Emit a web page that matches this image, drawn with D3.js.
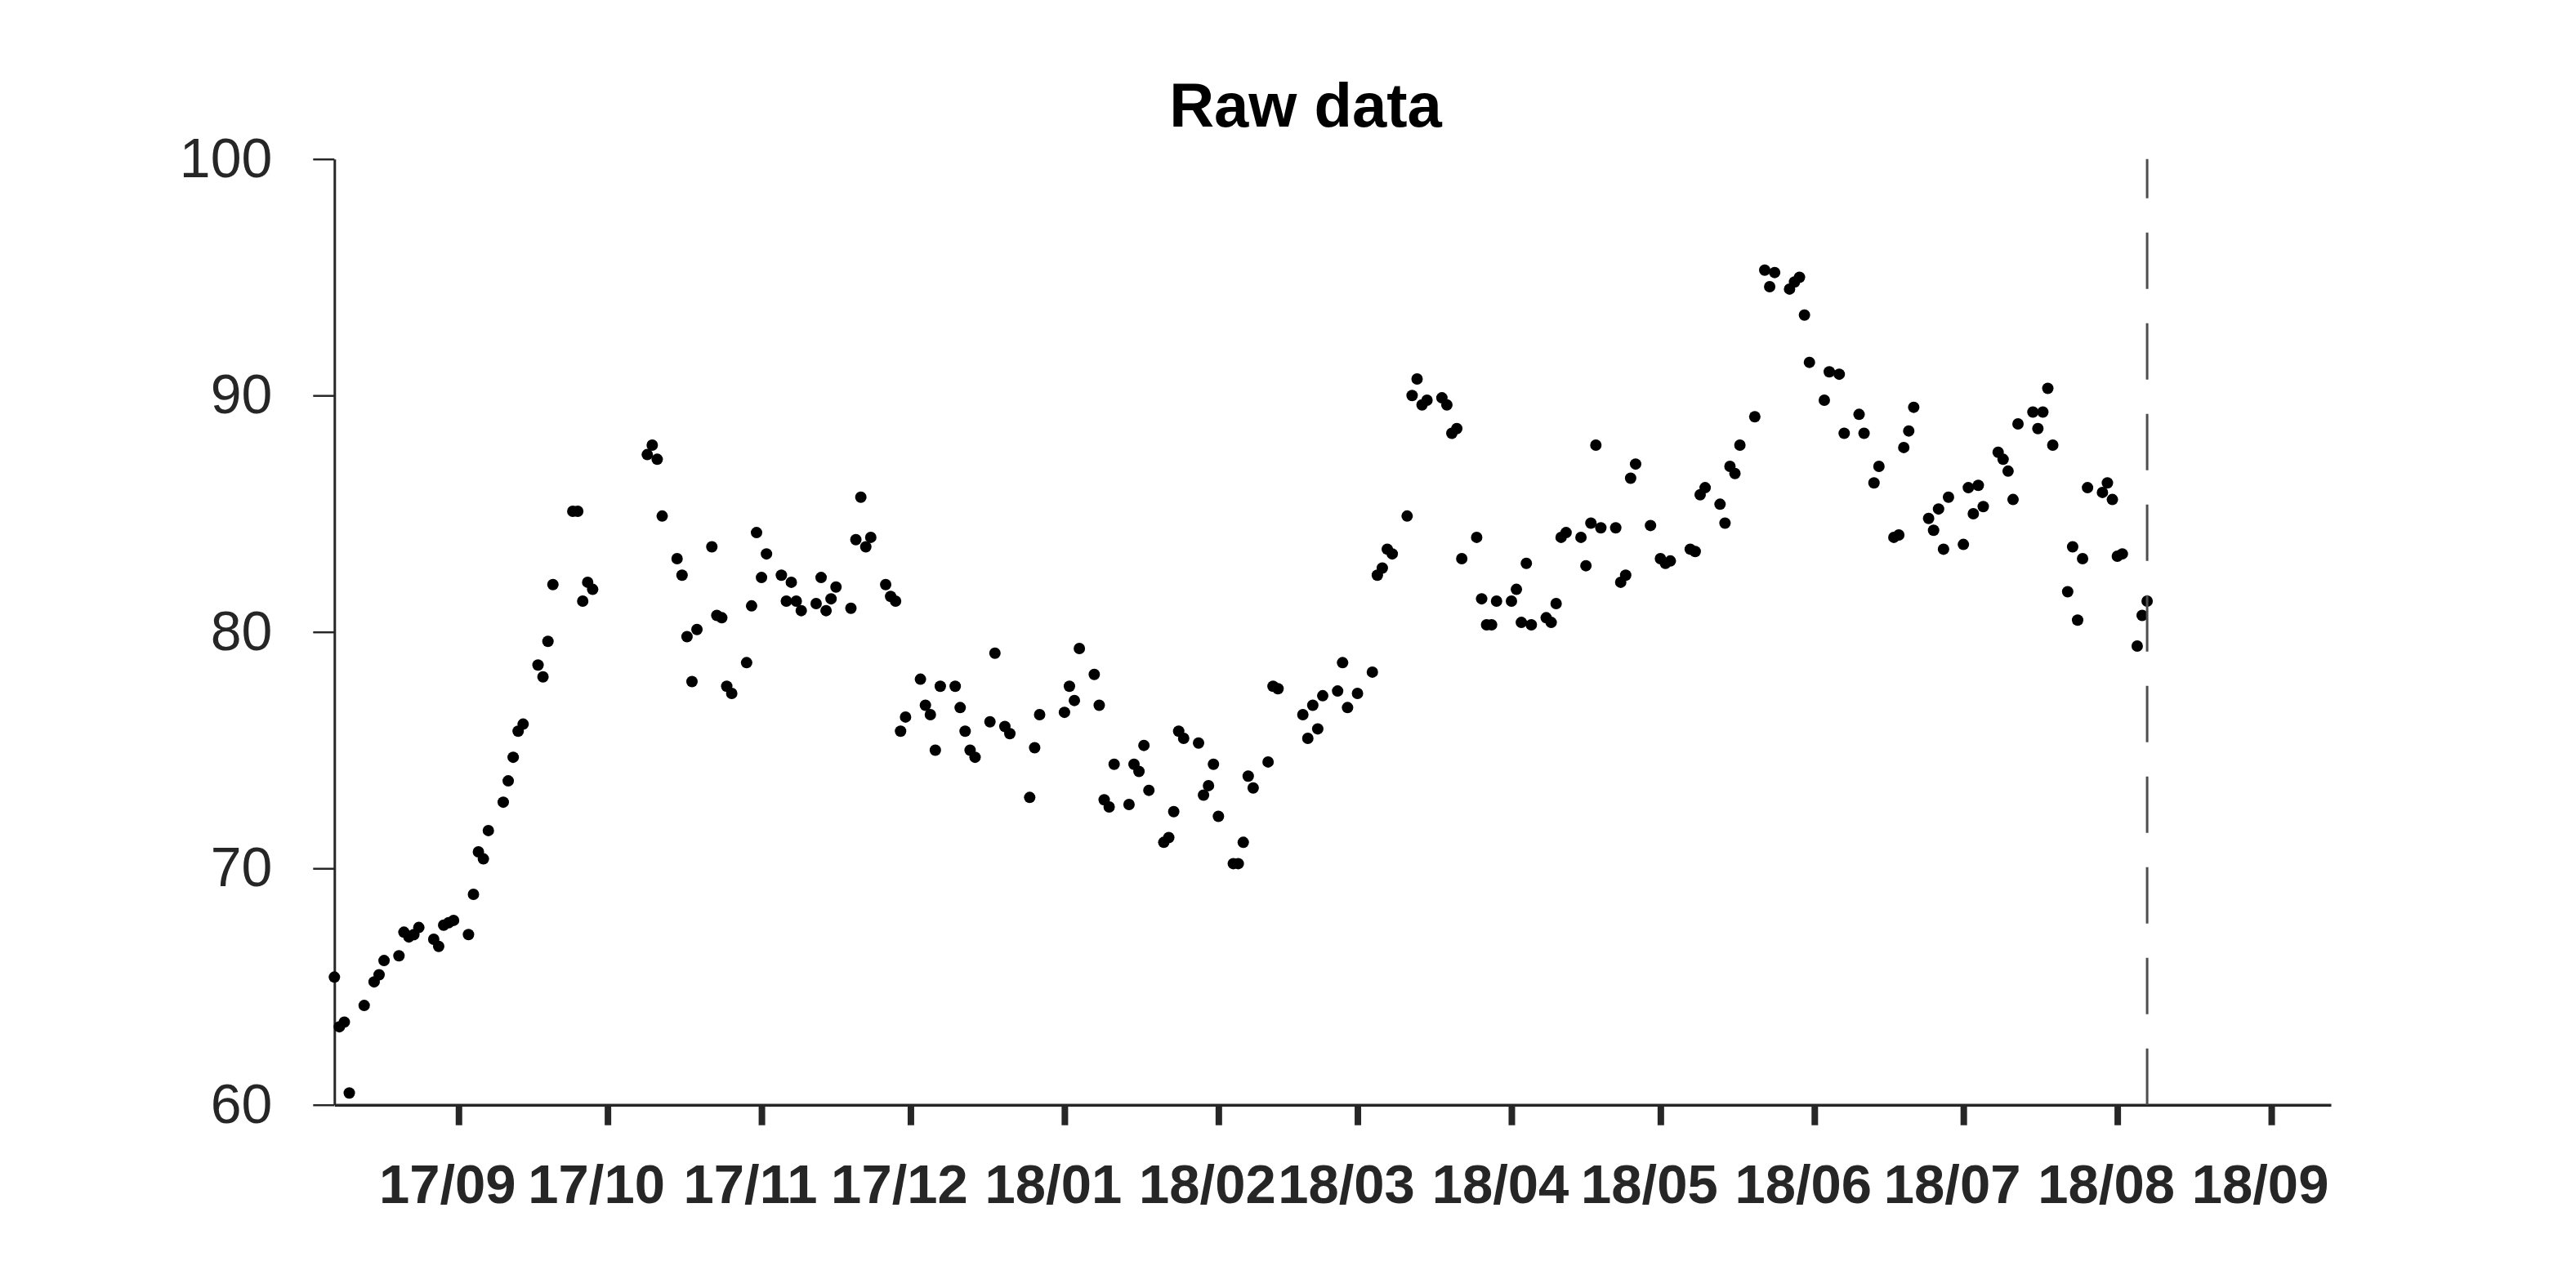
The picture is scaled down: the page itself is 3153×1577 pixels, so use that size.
<!DOCTYPE html>
<html>
<head>
<meta charset="utf-8">
<script src="https://cdn.jsdelivr.net/npm/d3@7"></script>
<style>
  html, body { margin: 0; padding: 0; background: #ffffff; }
  svg { display: block; }
</style>
</head>
<body>
<svg id="chart" width="3153" height="1577"></svg>
<script>
// ---------- data ----------
const titleText = "Raw data";

const dates = [
"2017-08-07","2017-08-08","2017-08-09","2017-08-10","2017-08-13","2017-08-15","2017-08-16","2017-08-17",
"2017-08-20","2017-08-21","2017-08-22","2017-08-23","2017-08-24","2017-08-27","2017-08-28","2017-08-29",
"2017-08-30","2017-08-31","2017-09-03","2017-09-04","2017-09-05","2017-09-06","2017-09-07","2017-09-10",
"2017-09-11","2017-09-12","2017-09-13","2017-09-14","2017-09-17","2017-09-18","2017-09-19","2017-09-20",
"2017-09-24","2017-09-25","2017-09-26","2017-09-27","2017-09-28","2017-10-09","2017-10-10","2017-10-11",
"2017-10-12","2017-10-15","2017-10-16","2017-10-17","2017-10-18","2017-10-19","2017-10-22","2017-10-23",
"2017-10-24","2017-10-25","2017-10-26","2017-10-29","2017-10-30","2017-10-31","2017-11-01","2017-11-02",
"2017-11-05","2017-11-06","2017-11-07","2017-11-08","2017-11-09","2017-11-12","2017-11-13","2017-11-14",
"2017-11-15","2017-11-16","2017-11-19","2017-11-20","2017-11-21","2017-11-22","2017-11-23","2017-11-26",
"2017-11-27","2017-11-28","2017-11-29","2017-11-30","2017-12-03","2017-12-04","2017-12-05","2017-12-06",
"2017-12-07","2017-12-10","2017-12-11","2017-12-12","2017-12-13","2017-12-14","2017-12-17","2017-12-18",
"2017-12-20","2017-12-21","2017-12-25","2017-12-26","2017-12-27","2018-01-01","2018-01-02","2018-01-03",
"2018-01-04","2018-01-07","2018-01-08","2018-01-09","2018-01-10","2018-01-11","2018-01-14","2018-01-15",
"2018-01-16","2018-01-17","2018-01-18","2018-01-21","2018-01-22","2018-01-23","2018-01-24","2018-01-25",
"2018-01-28","2018-01-29","2018-01-30","2018-01-31","2018-02-01","2018-02-04","2018-02-05","2018-02-06",
"2018-02-07","2018-02-08","2018-02-11","2018-02-12","2018-02-13","2018-02-18","2018-02-19","2018-02-20",
"2018-02-21","2018-02-22","2018-02-25","2018-02-26","2018-02-27","2018-03-01","2018-03-04","2018-03-05",
"2018-03-06","2018-03-07","2018-03-08","2018-03-11","2018-03-12","2018-03-13","2018-03-14","2018-03-15",
"2018-03-18","2018-03-19","2018-03-20","2018-03-21","2018-03-22","2018-03-25","2018-03-26","2018-03-27",
"2018-03-28","2018-03-29","2018-04-01","2018-04-02","2018-04-03","2018-04-04","2018-04-05","2018-04-08",
"2018-04-09","2018-04-10","2018-04-11","2018-04-12","2018-04-15","2018-04-16","2018-04-17","2018-04-18",
"2018-04-19","2018-04-22","2018-04-23","2018-04-24","2018-04-25","2018-04-26","2018-04-29","2018-05-01",
"2018-05-02","2018-05-03","2018-05-07","2018-05-08","2018-05-09","2018-05-10","2018-05-13","2018-05-14",
"2018-05-15","2018-05-16","2018-05-17","2018-05-20","2018-05-22","2018-05-23","2018-05-24","2018-05-27",
"2018-05-28","2018-05-29","2018-05-30","2018-05-31","2018-06-03","2018-06-04","2018-06-06","2018-06-07",
"2018-06-10","2018-06-11","2018-06-13","2018-06-14","2018-06-17","2018-06-18","2018-06-19","2018-06-20",
"2018-06-21","2018-06-24","2018-06-25","2018-06-26","2018-06-27","2018-06-28","2018-07-01","2018-07-02",
"2018-07-03","2018-07-04","2018-07-05","2018-07-08","2018-07-09","2018-07-10","2018-07-11","2018-07-12",
"2018-07-15","2018-07-16","2018-07-17","2018-07-18","2018-07-19","2018-07-22","2018-07-23","2018-07-24",
"2018-07-25","2018-07-26","2018-07-29","2018-07-30","2018-07-31","2018-08-01","2018-08-02","2018-08-05",
"2018-08-06","2018-08-07"
];

const values = [
65.4,63.3,63.5,60.5,64.2,65.2,65.5,66.1,
66.3,67.3,67.1,67.2,67.5,67.0,66.7,67.6,
67.7,67.8,67.2,68.9,70.7,70.4,71.6,72.8,
73.7,74.7,75.8,76.1,78.6,78.1,79.6,82.0,
85.1,85.1,81.3,82.1,81.8,87.5,87.9,87.3,
84.9,83.1,82.4,79.8,77.9,80.1,83.6,80.7,
80.6,77.7,77.4,78.7,81.1,84.2,82.3,83.3,
82.4,81.3,82.1,81.3,80.9,81.2,82.3,80.9,
81.4,81.9,81.0,83.9,85.7,83.6,84.0,82.0,
81.5,81.3,75.8,76.4,78.0,76.9,76.5,75.0,
77.7,77.7,76.8,75.8,75.0,74.7,76.2,79.1,
76.0,75.7,73.0,75.1,76.5,76.6,77.7,77.1,
79.3,78.2,76.9,72.9,72.6,74.4,72.7,74.4,
74.1,75.2,73.3,71.1,71.3,72.4,75.8,75.5,
75.3,73.1,73.5,74.4,72.2,70.2,70.2,71.1,
73.9,73.4,74.5,77.7,77.6,76.5,75.5,76.9,
75.9,77.3,77.5,78.7,76.8,77.4,78.3,82.4,
82.7,83.5,83.3,84.9,90.0,90.7,89.6,89.8,
89.9,89.6,88.4,88.6,83.1,84.0,81.4,80.3,
80.3,81.3,81.3,81.8,80.4,82.9,80.3,80.6,
80.4,81.2,84.0,84.2,84.0,82.8,84.6,87.9,
84.4,84.4,82.1,82.4,86.5,87.1,84.5,83.1,
82.9,83.0,83.5,83.4,85.8,86.1,85.4,84.6,
87.0,86.7,87.9,89.1,95.3,94.6,95.2,94.5,
94.8,95.0,93.4,91.4,89.8,91.0,90.9,88.4,
89.2,88.4,86.3,87.0,84.0,84.1,87.8,88.5,
89.5,84.8,84.3,85.2,83.5,85.7,83.7,86.1,
85.0,86.2,85.3,87.6,87.3,86.8,85.6,88.8,
89.3,88.6,89.3,90.3,87.9,81.7,83.6,80.5,
83.1,86.1,85.9,86.3,85.6,83.2,83.3,79.4,
80.7,81.3
];

const xDomain = ["2017-08-07", "2018-09-13"];
const yDomain = [60, 100];
const yTicks = [60, 70, 80, 90, 100];
const xTickDates = ["2017-09-01","2017-10-01","2017-11-01","2017-12-01","2018-01-01","2018-02-01",
                    "2018-03-01","2018-04-01","2018-05-01","2018-06-01","2018-07-01","2018-08-01","2018-09-01"];
const xTickLabels = ["17/09","17/10","17/11","17/12","18/01","18/02","18/03","18/04","18/05","18/06","18/07","18/08","18/09"];
const cutoffDate = "2018-08-07";

// ---------- layout ----------
(function () {
  const parse = d3.timeParse("%Y-%m-%d");
  const points = dates.map((d, i) => ({ date: parse(d), value: values[i] }));

  const plotLeft = 409.3, plotRight = 2853, plotTop = 194.7, plotBottom = 1352.7;
  const axisColor = "#262626";
  const fontFamily = "'Liberation Sans', Arial, Helvetica, sans-serif";

  const svg = d3.select("#chart");

  const x = d3.scaleTime().domain(xDomain.map(parse)).range([plotLeft, plotRight]);
  const y = d3.scaleLinear().domain(yDomain).range([plotBottom, plotTop]);

  // Title
  svg.append("text")
    .attr("x", 1598)
    .attr("y", 155)
    .attr("text-anchor", "middle")
    .attr("font-family", fontFamily)
    .attr("font-weight", "bold")
    .attr("font-size", 76)
    .attr("fill", "#000")
    .text(titleText);

  // Y axis
  const yAxis = d3.axisLeft(y)
    .tickValues(yTicks)
    .tickFormat(d3.format("d"))
    .tickSize(26)
    .tickSizeOuter(0)
    .tickPadding(50);

  const gy = svg.append("g")
    .attr("transform", `translate(${plotLeft},0)`)
    .call(yAxis);
  gy.select(".domain").attr("stroke", axisColor).attr("stroke-width", 3);
  gy.selectAll(".tick line").attr("stroke", axisColor).attr("stroke-width", 2.5);
  gy.selectAll(".tick text")
    .attr("font-family", fontFamily)
    .attr("font-size", 68)
    .attr("fill", axisColor);

  // X axis
  const xAxis = d3.axisBottom(x)
    .tickValues(xTickDates.map(parse))
    .tickFormat((d, i) => xTickLabels[i])
    .tickSize(25)
    .tickSizeOuter(0)
    .tickPadding(95);

  const gx = svg.append("g")
    .attr("transform", `translate(0,${plotBottom})`)
    .call(xAxis);
  gx.select(".domain").attr("stroke", axisColor).attr("stroke-width", 3.5);
  gx.selectAll(".tick line").attr("stroke", axisColor).attr("stroke-width", 8);
  gx.selectAll(".tick text")
    .attr("font-family", fontFamily)
    .attr("font-weight", "bold")
    .attr("font-size", 67)
    .attr("fill", axisColor)
    .attr("dy", 0)
    .attr("dx", -14);

  // Points
  svg.append("g")
    .selectAll("circle")
    .data(points)
    .join("circle")
    .attr("cx", d => x(d.date))
    .attr("cy", d => y(d.value))
    .attr("r", 7)
    .attr("fill", "#000");

  // Dashed cutoff line
  svg.append("line")
    .attr("x1", x(parse(cutoffDate)))
    .attr("x2", x(parse(cutoffDate)))
    .attr("y1", y(yDomain[1]))
    .attr("y2", y(yDomain[0]))
    .attr("stroke", "#4d4d4d")
    .attr("stroke-width", 3)
    .attr("stroke-dasharray", "69,42")
    .attr("stroke-dashoffset", 21);
})();
</script>
</body>
</html>
